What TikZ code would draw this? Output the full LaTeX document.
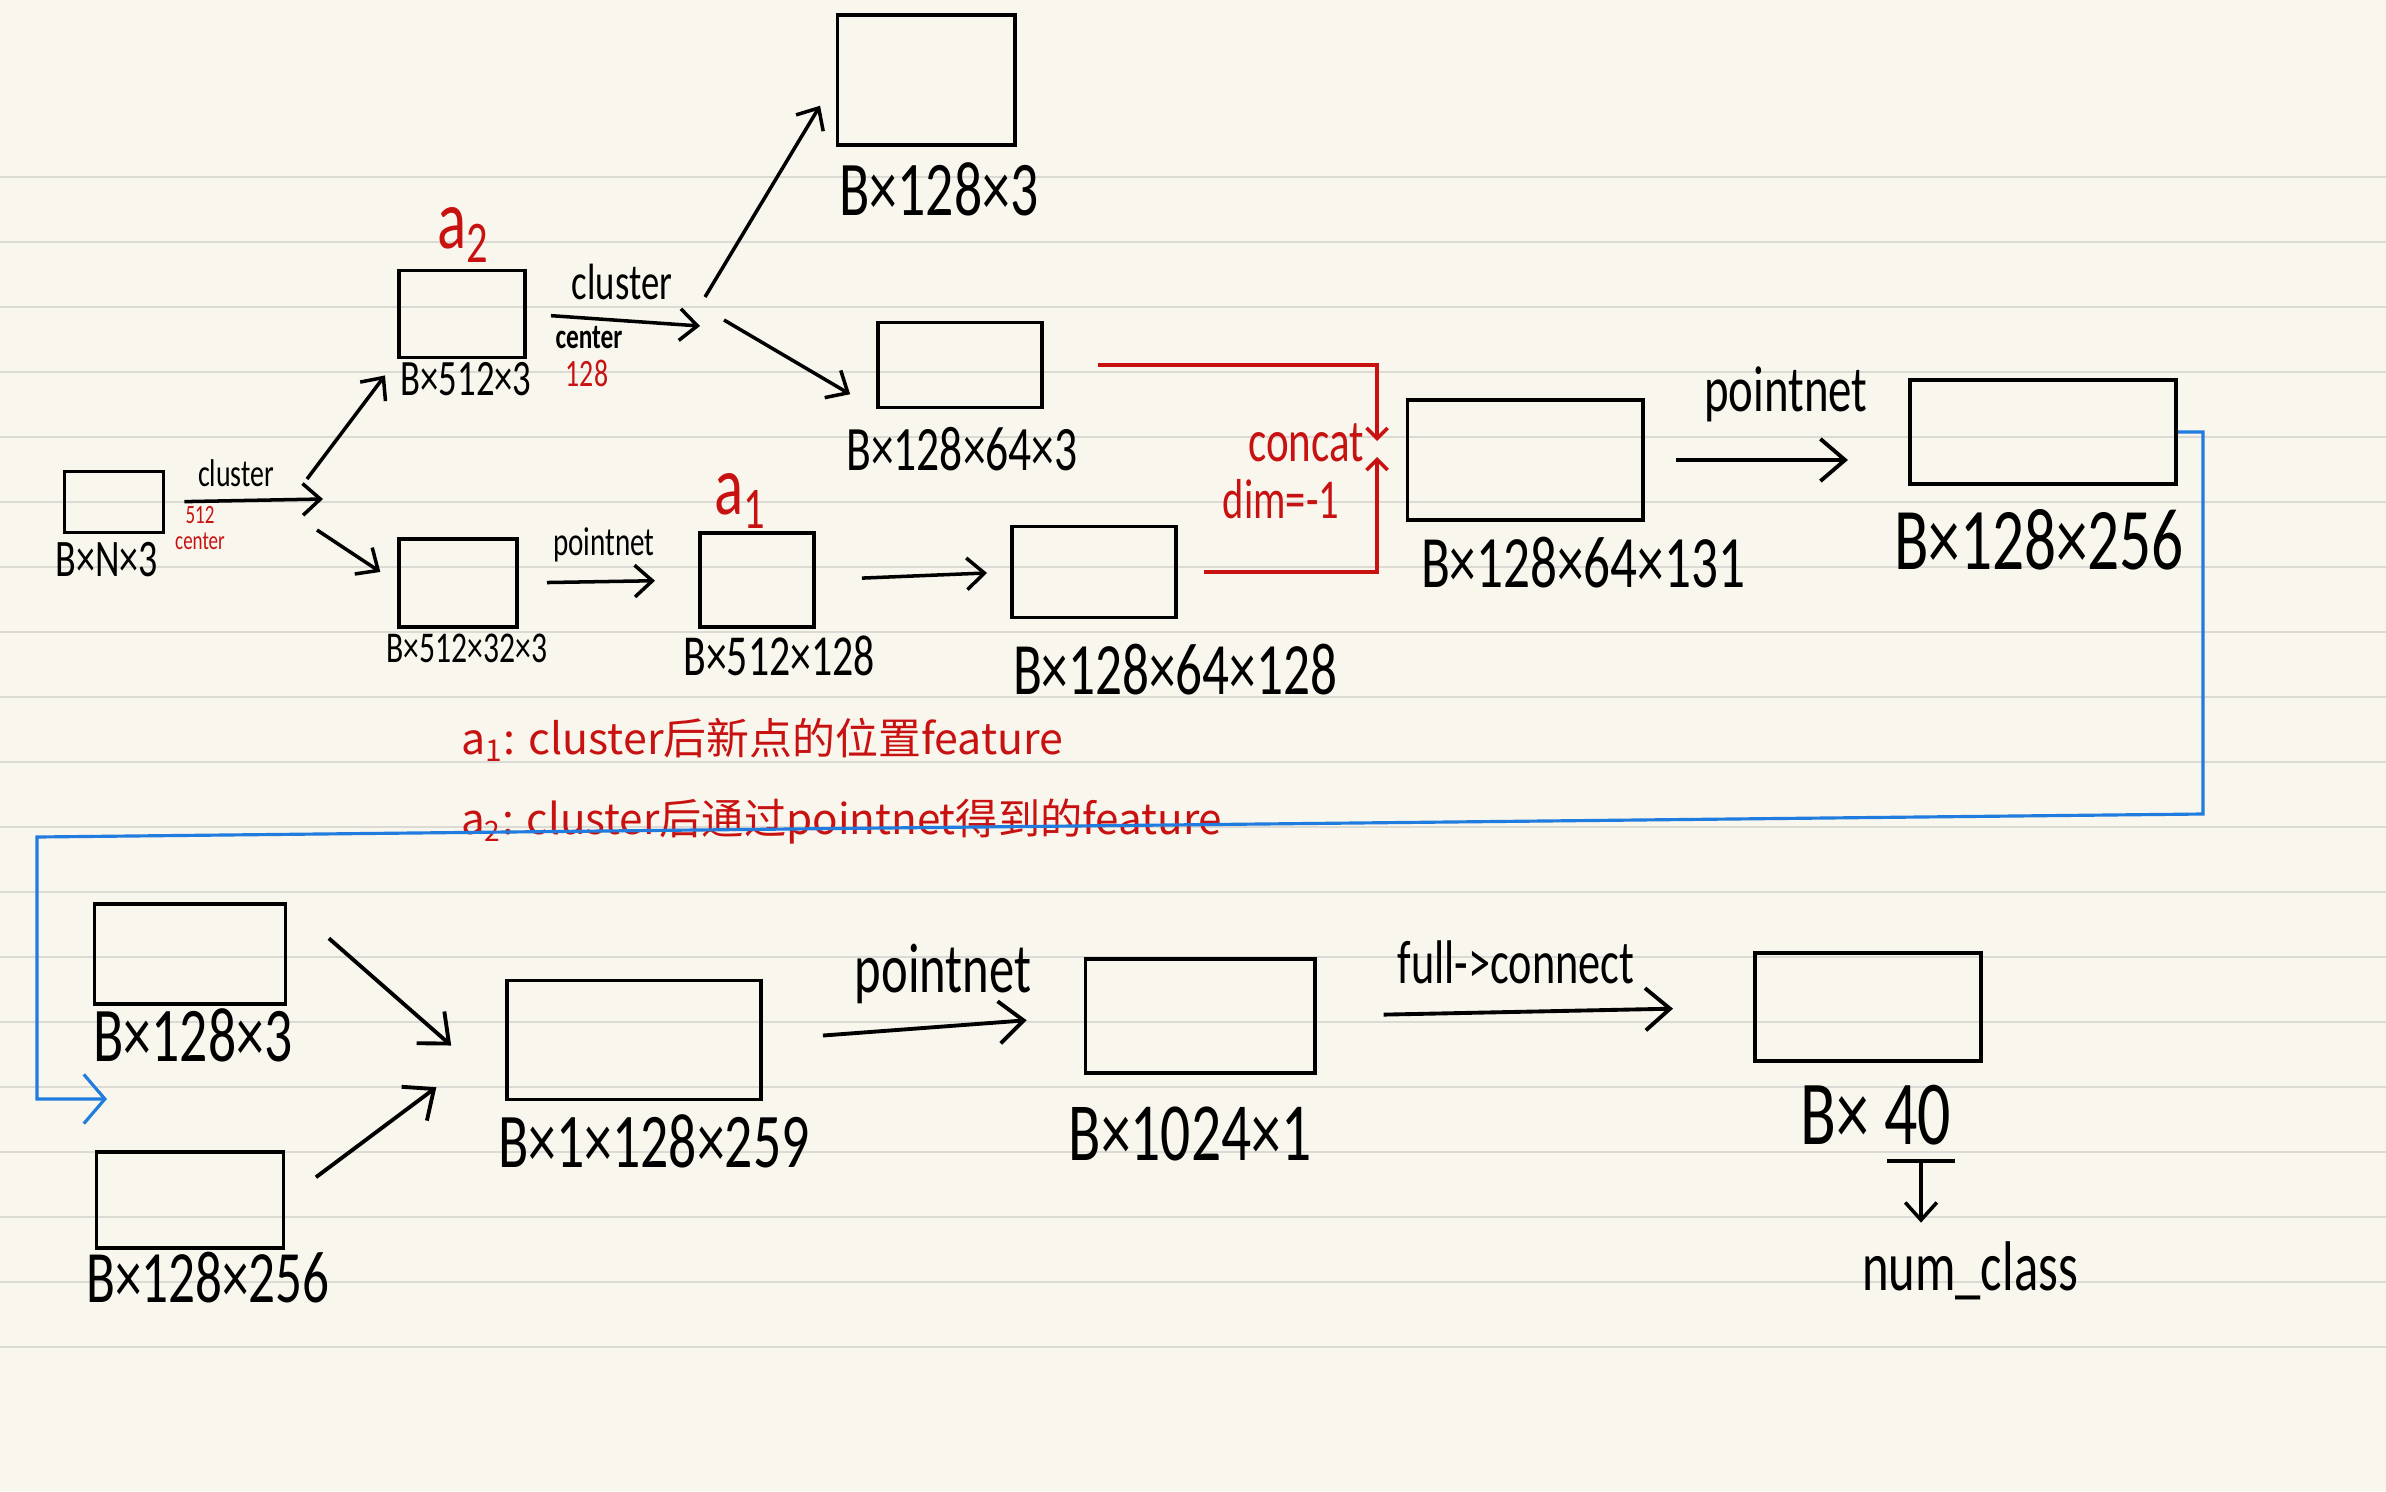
\documentclass[tikz,border=0pt]{standalone}
\usepackage{fontspec}
\setmainfont{Carlito}[FakeStretch=0.72]
\newfontfamily\cjk{Noto Sans CJK SC}
\usepackage{tikz}
\usetikzlibrary{arrows.meta, positioning, calc}
\definecolor{paper}{RGB}{249,247,237}
\definecolor{ruling}{RGB}{219,218,212}
\definecolor{inkred}{RGB}{200,18,18}
\definecolor{inkblue}{RGB}{32,124,222}

\begin{document}
\begin{tikzpicture}[x=0.01cm, y=-0.01cm,
    featbox/.style={draw, line width=1.1pt, inner sep=0pt},
    dimtxt/.style={inner sep=1pt, font=\fontsize{#1}{#1}\selectfont},
    redtxt/.style={inner sep=1pt, text=inkred, font=\fontsize{#1}{#1}\selectfont},
    arr/.style={-{Straight Barb[length=5pt,width=9pt]}, line width=1pt},
    arrL/.style={-{Straight Barb[length=7pt,width=12pt]}, line width=1.1pt},
    redarr/.style={-{Straight Barb[length=3pt,width=6pt]}, inkred, line width=1pt},
    bluearr/.style={-{Straight Barb[length=6pt,width=14pt]}, inkblue, line width=0.9pt}]

    % Paper
    \fill[paper] (0,0) rectangle (2386,1491);
    \useasboundingbox (0,0) rectangle (2386,1491);
    \foreach \y in {177,242,...,1347}
        \draw[ruling, line width=0.7pt] (0,\y) -- (2386,\y);

    % Input and first split
    \node[featbox, minimum width=0.99cm, minimum height=0.61cm] (bN3) at (114,502) {};
    \node[dimtxt=15] (lN3) at (107,560) {B×N×3};
    \node[dimtxt=11] (opCl1) at (236,473) {cluster};
    \node[redtxt=7.5, align=center] (l512c) at (200,528) {512\\center};
    \coordinate (fk1) at (323,499);
    \coordinate (fk1u) at (307,479);
    \coordinate (fk1d) at (317,530);
    \draw[arr, shorten <=0.19cm] (bN3.east) -- (fk1);

    \node[featbox, minimum width=1.26cm, minimum height=0.87cm] (b512x3) at (462,314) {};
    \node[dimtxt=14.5] (l512x3) at (466,379) {B×512×3};
    \node[redtxt=24] (la2) at (464,235) {a\textsubscript{2}};
    \draw[arr, shorten >=0.2cm] (fk1u) -- (b512x3.south west);

    \node[featbox, minimum width=1.18cm, minimum height=0.88cm] (b512x32x3) at (458,583) {};
    \node[dimtxt=12.5] (l512x32x3) at (467,648) {B×512×32×3};
    \draw[arr, shorten >=0.2cm] (fk1d) -- (b512x32x3.west);

    % Second split
    \node[dimtxt=14.5] (opCl2) at (622,282) {cluster};
    \node[dimtxt=10] (opCenter) at (589,338) {\bfseries center};
    \node[redtxt=11] (l128r) at (587,373) {128};
    \coordinate (fk2) at (700,326);
    \coordinate (fk2u) at (705,297);
    \coordinate (fk2d) at (724,320);
    \draw[arr, shorten <=0.24cm] (b512x3.east) -- (fk2);

    \node[featbox, minimum width=1.77cm, minimum height=1.30cm] (b128x3) at (926,80) {};
    \node[dimtxt=22] (l128x3) at (939,189) {B×128×3};
    \draw[arr, shorten >=0.3cm] (fk2u) -- (b128x3.west);

    \node[featbox, minimum width=1.64cm, minimum height=0.85cm] (b128x64x3) at (960,365) {};
    \node[dimtxt=18] (l128x64x3) at (962,449) {B×128×64×3};
    \draw[arr, shorten >=0.3cm] (fk2d) -- (b128x64x3.south west);

    % Pointnet branch
    \node[dimtxt=11.5] (opPn1) at (604,545) {pointnet};
    \node[featbox, minimum width=1.14cm, minimum height=0.94cm] (b512x128) at (757,580) {};
    \node[dimtxt=16.5] (l512x128) at (779,656) {B×512×128};
    \node[redtxt=24] (la1) at (741,501) {a\textsubscript{1}};
    \draw[arr, shorten <=0.28cm, shorten >=0.43cm] (b512x32x3.east) -- (b512x128.west);

    \node[featbox, minimum width=1.64cm, minimum height=0.91cm] (b128x64x128) at (1094,572) {};
    \node[dimtxt=21] (l128x64x128) at (1175,670) {B×128×64×128};
    \draw[arr, shorten <=0.46cm, shorten >=0.23cm] (b512x128.east) -- (b128x64x128.west);

    % Concat
    \coordinate (cat) at (1377,449);
    \draw[redarr, shorten <=0.54cm, shorten >=0.08cm] (b128x64x3.east) -| (cat);
    \draw[redarr, shorten <=0.26cm, shorten >=0.08cm] (b128x64x128.east) -| (cat);
    \node[redtxt=17] (lconcat) at (1306,443) {concat};
    \node[redtxt=16] (ldim) at (1281,499) {dim=-1};

    \node[featbox, minimum width=2.35cm, minimum height=1.20cm] (b128x64x131) at (1525,460) {};
    \node[dimtxt=21] (l128x64x131) at (1583,563) {B×128×64×131};

    \node[dimtxt=18.5] (opPn2) at (1786,394) {pointnet};
    \node[featbox, minimum width=2.66cm, minimum height=1.04cm] (b128x256) at (2043,432) {};
    \node[dimtxt=25] (l128x256) at (2039,540) {B×128×256};
    \draw[arrL, shorten <=0.31cm, shorten >=0.6cm] (b128x64x131.east) -- (b128x64x131.east -| b128x256.west);

    % Notes
    \node[redtxt=12, anchor=west, font=\cjk\fontsize{12.2}{12.2}\selectfont] (note1) at (457,740) {a\textsubscript{1}: cluster后新点的位置feature};
    \node[redtxt=12, anchor=west, font=\cjk\fontsize{12}{12}\selectfont] (note2) at (457,822) {a\textsubscript{2}: cluster后通过pointnet得到的feature};

    % Wrap to second row
    \coordinate (blA) at (2203,814);
    \coordinate (blB) at (37,837);
    \coordinate (blEnd) at (107,1099);
    \draw[bluearr] (b128x256.east) -| (blA) -- (blB) |- (blEnd);

    % Second row
    \node[featbox, minimum width=1.91cm, minimum height=1.00cm] (c128x3) at (190,954) {};
    \node[dimtxt=22] (lc128x3) at (193,1035) {B×128×3};
    \node[featbox, minimum width=1.87cm, minimum height=0.96cm] (c128x256) at (190,1200) {};
    \node[dimtxt=21] (lc128x256) at (208,1278) {B×128×256};

    \coordinate (mg) at (470,1062);
    \draw[arrL, shorten <=0.55cm, shorten >=0.25cm] (c128x3.north east) -- (mg);
    \draw[arrL, shorten <=0.38cm, shorten >=0.42cm] (c128x256.east) -- (mg);

    \node[featbox, minimum width=2.54cm, minimum height=1.19cm] (c259) at (634,1040) {};
    \node[dimtxt=22] (lc259) at (654,1141) {B×1×128×259};

    \node[dimtxt=20] (opPn3) at (943,974) {pointnet};
    \node[featbox, minimum width=2.29cm, minimum height=1.14cm] (c1024) at (1200,1016) {};
    \node[dimtxt=23.5] (lc1024) at (1190,1134) {B×1024×1};
    \draw[arrL, shorten <=0.6cm, shorten >=0.57cm] (c259.east) -- (c1024.west);

    \node[dimtxt=17.5] (opFc) at (1516,962) {full->connect};
    \node[featbox, minimum width=2.26cm, minimum height=1.08cm] (c40) at (1868,1007) {};
    \node[dimtxt=26] (lc40) at (1876,1115) {B×\,40};
    \draw[arrL, shorten <=0.67cm, shorten >=0.8cm] (c1024.east) -- (c40.west);

    % Output
    \node[dimtxt=20] (lclass) at (1970,1271) {num\_class};
    \coordinate (bar) at (1921,1161);
    \draw[line width=1.1pt] ([xshift=-0.34cm]bar) -- ([xshift=0.34cm]bar);
    \draw[arr, shorten >=0.15cm] (bar) -- (bar |- lclass.north);
\end{tikzpicture}
\end{document}
